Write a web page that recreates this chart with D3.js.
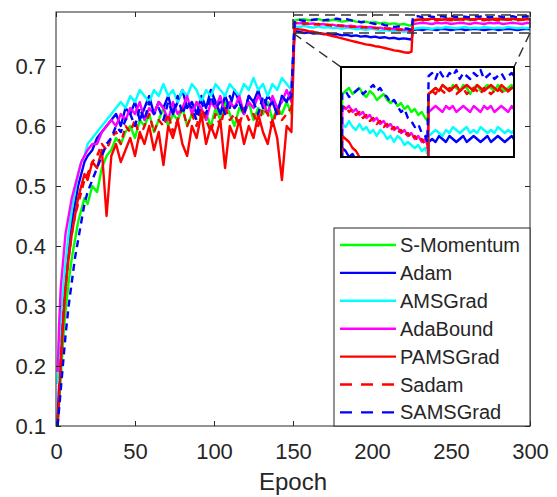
<!DOCTYPE html>
<html><head><meta charset="utf-8">
<script src="https://cdn.jsdelivr.net/npm/d3@7"></script>
<style>
html,body{margin:0;padding:0;background:#fff;}
text{font-family:"Liberation Sans",Arial,sans-serif;fill:#262626;}
</style></head>
<body><svg id="chart" width="557" height="497"></svg>
<script>
const epochs = [1,2,3,4,5,6,8,10,12,14,16,18,
 20,23,26,29,32,35,38,41,44,47,50,53,56,59,62,65,68,71,74,77,80,83,86,89,92,95,98,101,104,107,110,113,116,119,122,125,128,131,134,137,140,143,146,149,
 151,154,157,160,163,166,169,172,175,178,181,184,187,190,193,196,199,202,205,208,211,214,217,220,223,225,
 226,229,232,235,238,241,244,247,250,253,256,259,262,265,268,271,274,277,280,283,286,289,292,295,298,300];

const sMomentum = [0.10,0.14,0.18,0.22,0.26,0.29,0.34,0.38,0.41,0.44,0.46,0.48,
 0.47,0.50,0.49,0.53,0.55,0.56,0.58,0.57,0.59,0.60,
 0.58,0.61,0.60,0.62,0.59,0.61,0.63,0.60,0.62,0.61,
 0.63,0.60,0.62,0.64,0.61,0.62,0.60,0.63,0.61,0.64,
 0.62,0.60,0.63,0.62,0.64,0.61,0.63,0.62,0.64,0.61,
 0.63,0.62,0.64,0.62,
 0.776,0.777,0.778,0.776,0.777,0.778,0.776,0.775,0.777,0.776,0.774,0.775,0.776,0.774,0.773,0.774,0.772,0.773,0.771,0.772,0.770,0.771,0.769,0.770,0.768,0.767,
 0.776,0.777,0.778,0.777,0.779,0.778,0.777,0.779,0.778,0.777,0.779,0.778,0.776,0.778,0.779,0.777,0.778,0.779,0.778,0.777,0.779,0.778,0.777,0.778,0.779,0.778];

const adam = [0.11,0.17,0.23,0.28,0.32,0.35,0.40,0.44,0.47,0.50,0.52,0.54,
 0.55,0.56,0.58,0.59,0.60,0.61,0.62,0.60,0.63,0.62,
 0.64,0.61,0.63,0.65,0.62,0.64,0.63,0.65,0.62,0.64,
 0.66,0.63,0.64,0.62,0.65,0.63,0.66,0.64,0.62,0.65,
 0.63,0.66,0.64,0.62,0.65,0.64,0.66,0.63,0.65,0.64,
 0.62,0.65,0.64,0.66,
 0.758,0.757,0.755,0.756,0.754,0.755,0.753,0.754,0.752,0.753,0.751,0.752,0.750,0.751,0.749,0.750,0.748,0.749,0.747,0.748,0.746,0.747,0.745,0.746,0.745,0.744,
 0.760,0.761,0.760,0.762,0.761,0.760,0.762,0.761,0.760,0.761,0.762,0.760,0.761,0.762,0.761,0.760,0.761,0.762,0.760,0.761,0.762,0.761,0.760,0.761,0.762,0.761];

const amsGrad = [0.17,0.22,0.27,0.31,0.34,0.37,0.42,0.46,0.49,0.52,0.54,0.55,
 0.57,0.58,0.59,0.60,0.61,0.62,0.63,0.64,0.63,0.65,
 0.64,0.66,0.65,0.64,0.66,0.65,0.67,0.65,0.66,0.64,
 0.66,0.65,0.67,0.66,0.64,0.66,0.65,0.67,0.66,0.65,
 0.67,0.66,0.65,0.67,0.66,0.68,0.66,0.67,0.65,0.67,
 0.66,0.68,0.67,0.66,
 0.766,0.765,0.767,0.765,0.764,0.766,0.764,0.765,0.763,0.764,0.762,0.764,0.763,0.761,0.762,0.760,0.762,0.761,0.759,0.760,0.759,0.758,0.759,0.757,0.758,0.756,
 0.762,0.763,0.764,0.763,0.762,0.764,0.763,0.765,0.764,0.763,0.764,0.765,0.763,0.764,0.763,0.765,0.764,0.763,0.764,0.763,0.765,0.764,0.763,0.764,0.763,0.764];

const adaBound = [0.19,0.27,0.33,0.36,0.39,0.42,0.45,0.48,0.50,0.52,0.54,0.55,
 0.56,0.57,0.57,0.59,0.60,0.61,0.60,0.62,0.61,0.63,
 0.62,0.64,0.61,0.63,0.62,0.64,0.63,0.61,0.64,0.62,
 0.63,0.65,0.62,0.64,0.63,0.61,0.64,0.63,0.65,0.62,
 0.64,0.63,0.65,0.62,0.64,0.63,0.65,0.64,0.62,0.65,
 0.63,0.64,0.66,0.64,
 0.772,0.771,0.772,0.770,0.771,0.769,0.770,0.768,0.769,0.767,0.768,0.766,0.767,0.765,0.766,0.764,0.765,0.763,0.764,0.762,0.763,0.761,0.762,0.760,0.761,0.759,
 0.770,0.771,0.772,0.771,0.770,0.772,0.771,0.772,0.770,0.771,0.772,0.771,0.770,0.772,0.771,0.770,0.772,0.771,0.772,0.770,0.771,0.772,0.771,0.770,0.772,0.771];

const pamsGrad = [0.10,0.15,0.20,0.25,0.29,0.33,0.38,0.42,0.45,0.48,0.50,0.52,
 0.51,0.54,0.53,0.56,0.45,0.55,0.57,0.54,0.56,0.58,
 0.55,0.59,0.57,0.60,0.56,0.59,0.535,0.60,0.58,0.61,
 0.57,0.55,0.60,0.58,0.62,0.57,0.60,0.58,0.61,0.53,
 0.60,0.58,0.61,0.57,0.60,0.58,0.62,0.59,0.57,0.61,
 0.58,0.51,0.60,0.59,
 0.762,0.761,0.760,0.758,0.757,0.755,0.754,0.752,0.750,0.748,0.746,0.744,0.742,0.740,0.738,0.736,0.735,0.733,0.732,0.730,0.728,0.726,0.725,0.723,0.722,0.724,
 0.776,0.777,0.778,0.777,0.779,0.778,0.777,0.778,0.779,0.777,0.778,0.779,0.778,0.777,0.779,0.778,0.777,0.778,0.779,0.778,0.777,0.779,0.778,0.777,0.778,0.778];

const sadam = [0.10,0.15,0.21,0.26,0.30,0.33,0.38,0.42,0.45,0.47,0.49,0.51,
 0.52,0.54,0.55,0.57,0.56,0.58,0.59,0.57,0.60,0.59,
 0.61,0.58,0.60,0.62,0.59,0.61,0.60,0.62,0.59,0.61,
 0.63,0.60,0.62,0.60,0.63,0.61,0.59,0.62,0.60,0.63,
 0.61,0.62,0.60,0.63,0.61,0.62,0.60,0.63,0.62,0.60,
 0.63,0.61,0.62,0.63,
 0.771,0.772,0.770,0.771,0.769,0.770,0.768,0.769,0.767,0.768,0.766,0.767,0.765,0.766,0.764,0.765,0.763,0.764,0.762,0.763,0.761,0.762,0.760,0.761,0.759,0.758,
 0.776,0.777,0.776,0.778,0.777,0.776,0.778,0.777,0.776,0.777,0.778,0.776,0.777,0.778,0.777,0.776,0.778,0.777,0.776,0.777,0.778,0.777,0.776,0.777,0.778,0.777];

const samsGrad = [0.10,0.13,0.16,0.19,0.22,0.25,0.30,0.34,0.38,0.41,0.44,0.47,
 0.49,0.51,0.53,0.55,0.57,0.58,0.60,0.59,0.61,0.62,
 0.60,0.63,0.61,0.64,0.62,0.63,0.61,0.64,0.62,0.65,
 0.62,0.64,0.63,0.61,0.64,0.62,0.65,0.63,0.64,0.62,
 0.65,0.63,0.64,0.62,0.65,0.64,0.62,0.65,0.63,0.64,
 0.62,0.65,0.64,0.65,
 0.776,0.777,0.775,0.776,0.777,0.778,0.776,0.777,0.778,0.779,0.777,0.778,0.776,0.775,0.773,0.774,0.772,0.770,0.771,0.768,0.767,0.765,0.766,0.763,0.762,0.760,
 0.782,0.783,0.781,0.784,0.782,0.781,0.783,0.782,0.784,0.781,0.783,0.782,0.781,0.783,0.782,0.784,0.781,0.782,0.783,0.781,0.782,0.783,0.781,0.782,0.783,0.782];

const seriesNames = ["S-Momentum","Adam","AMSGrad","AdaBound","PAMSGrad","Sadam","SAMSGrad"];
const seriesValues = [sMomentum, adam, amsGrad, adaBound, pamsGrad, sadam, samsGrad];
const seriesColors = ["#00ff00","#0000ff","#00ffff","#ff00ff","#ff0000","#ff0000","#0000ff"];
const seriesDashed = [false,false,false,false,false,true,true];
const xTicks = [0,50,100,150,200,250,300];
const yTicks = [0.1,0.2,0.3,0.4,0.5,0.6,0.7];
const xLabel = "Epoch";
const zoomX = [150,300];
const zoomY = [0.755,0.785];

const svg = d3.select("#chart");
const M = {l:56, r:530, t:12, b:426};
const x = d3.scaleLinear().domain([0,300]).range([M.l, M.r]);
const y = d3.scaleLinear().domain([0.1,0.79]).range([M.b, M.t]);
const axisColor = "#262626";

const defs = svg.append("defs");
defs.append("clipPath").attr("id","clipMain").append("rect")
  .attr("x",M.l).attr("y",M.t).attr("width",M.r-M.l).attr("height",M.b-M.t);

const series = seriesNames.map((n,i)=>({name:n, color:seriesColors[i], dashed:seriesDashed[i],
  pts: epochs.map((e,j)=>[e, seriesValues[i][j]])}));

const gLines = svg.append("g").attr("clip-path","url(#clipMain)");
const lineMain = d3.line().x(d=>x(d[0])).y(d=>y(d[1]));
series.forEach(s=>{
  gLines.append("path").attr("d", lineMain(s.pts)).attr("fill","none")
    .attr("stroke", s.color).attr("stroke-width",2.4).attr("stroke-linejoin","round")
    .attr("stroke-dasharray", s.dashed ? "7,5" : null);
});

// axes
function styleAxis(g){
  g.selectAll(".domain").remove();
  g.selectAll(".tick line").attr("stroke",axisColor);
  g.selectAll(".tick text").attr("fill",axisColor).style("font-size","22px")
    .style("font-family",'"Liberation Sans",Arial,sans-serif');
}
svg.append("g").attr("transform",`translate(0,${M.b})`)
  .call(d3.axisBottom(x).tickValues(xTicks).tickSizeInner(-5).tickSizeOuter(0).tickPadding(17).tickFormat(d3.format("d")))
  .call(styleAxis);
svg.append("g").attr("transform",`translate(0,${M.t})`)
  .call(d3.axisTop(x).tickValues(xTicks).tickSizeInner(-5).tickSizeOuter(0).tickFormat(""))
  .call(styleAxis);
svg.append("g").attr("transform",`translate(${M.l},0)`)
  .call(d3.axisLeft(y).tickValues(yTicks).tickSizeInner(-5).tickSizeOuter(0).tickPadding(10).tickFormat(d3.format(".1f")))
  .call(styleAxis);
svg.append("g").attr("transform",`translate(${M.r},0)`)
  .call(d3.axisRight(y).tickValues(yTicks).tickSizeInner(-5).tickSizeOuter(0).tickFormat(""))
  .call(styleAxis);
svg.append("rect").attr("x",M.l).attr("y",M.t).attr("width",M.r-M.l).attr("height",M.b-M.t)
  .attr("fill","none").attr("stroke",axisColor).attr("stroke-width",1);

svg.append("text").attr("x",(M.l+M.r)/2).attr("y",490).attr("text-anchor","middle")
  .style("font-size","24px").text(xLabel);

// zoom rectangle
const zr = {x0:x(zoomX[0]), x1:x(zoomX[1]), y0:y(zoomY[1]), y1:y(zoomY[0])};
svg.append("rect").attr("x",zr.x0).attr("y",zr.y0).attr("width",zr.x1-zr.x0).attr("height",zr.y1-zr.y0)
  .attr("fill","none").attr("stroke","#333").attr("stroke-width",1.5).attr("stroke-dasharray","10,6");

// inset
const I = {l:341, r:514, t:67, b:157};
svg.append("line").attr("x1",zr.x0).attr("y1",zr.y1).attr("x2",I.l).attr("y2",I.t)
  .attr("stroke","#333").attr("stroke-width",1.5).attr("stroke-dasharray","10,6");
svg.append("line").attr("x1",zr.x1).attr("y1",zr.y1).attr("x2",I.r).attr("y2",I.t)
  .attr("stroke","#333").attr("stroke-width",1.5).attr("stroke-dasharray","10,6");
svg.append("rect").attr("x",I.l).attr("y",I.t).attr("width",I.r-I.l).attr("height",I.b-I.t).attr("fill","#fff");
defs.append("clipPath").attr("id","clipInset").append("rect")
  .attr("x",I.l).attr("y",I.t).attr("width",I.r-I.l).attr("height",I.b-I.t);
const xi = d3.scaleLinear().domain(zoomX).range([I.l, I.r]);
const yi = d3.scaleLinear().domain(zoomY).range([I.b, I.t]);
const lineInset = d3.line().x(d=>xi(d[0])).y(d=>yi(d[1]));
const gInset = svg.append("g").attr("clip-path","url(#clipInset)");
series.forEach(s=>{
  gInset.append("path").attr("d", lineInset(s.pts.filter(p=>p[0]>=149))).attr("fill","none")
    .attr("stroke", s.color).attr("stroke-width",2.4).attr("stroke-linejoin","round")
    .attr("stroke-dasharray", s.dashed ? "7,5" : null);
});
svg.append("rect").attr("x",I.l).attr("y",I.t).attr("width",I.r-I.l).attr("height",I.b-I.t)
  .attr("fill","none").attr("stroke","#000").attr("stroke-width",2);

// legend
const L = {l:334, t:228, r:M.r, b:M.b};
const lg = svg.append("g");
lg.append("rect").attr("x",L.l).attr("y",L.t).attr("width",L.r-L.l).attr("height",L.b-L.t)
  .attr("fill","#fff").attr("stroke",axisColor).attr("stroke-width",1);
series.forEach((s,i)=>{
  const cy = 245 + i*27.9;
  lg.append("line").attr("x1",340).attr("x2",396).attr("y1",cy).attr("y2",cy)
    .attr("stroke",s.color).attr("stroke-width",2.4).attr("stroke-dasharray", s.dashed ? "12,9" : null);
  lg.append("text").attr("x",400).attr("y",cy).attr("dy","0.35em").style("font-size","20px").text(s.name);
});
</script></body></html>
